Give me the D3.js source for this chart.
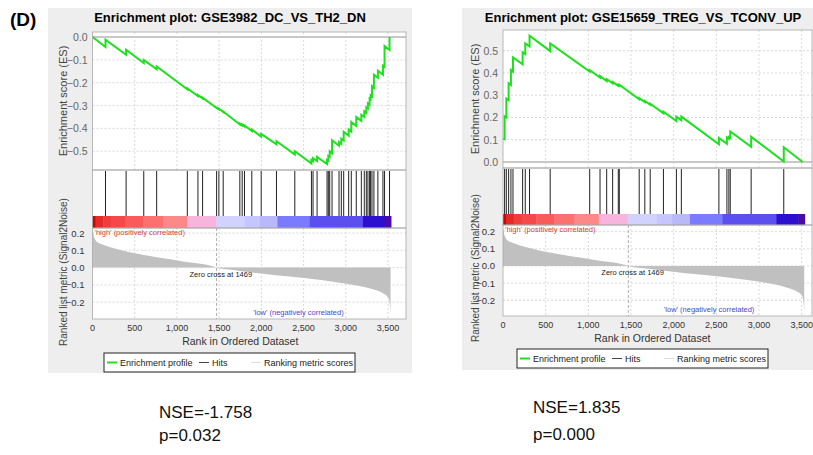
<!DOCTYPE html>
<html>
<head>
<meta charset="utf-8">
<script src="https://cdn.jsdelivr.net/npm/d3@7"></script>
<style>
  body { margin: 0; background: #fff; }
  svg text { font-family: "Liberation Sans", Arial, sans-serif; }
</style>
</head>
<body>
<svg id="chart" width="813" height="455"></svg>
<script>
// ranked list, shared by both plots
const rankTicks = [0, 500, 1000, 1500, 2000, 2500, 3000, 3500];
const metricTicks = [0.2, 0.1, 0.0, -0.1, -0.2];
const metricCurve = [
  [0, 0.228], [12, 0.189], [24, 0.170], [51, 0.150], [110, 0.135], [209, 0.118],
  [366, 0.098], [563, 0.077], [760, 0.060], [957, 0.045], [1154, 0.029], [1351, 0.016],
  [1469, 0.0], [1745, -0.019], [2139, -0.042], [2533, -0.061], [2927, -0.087],
  [3164, -0.106], [3321, -0.125], [3440, -0.148], [3499, -0.171], [3518, -0.196],
  [3530, -0.265]
];
const zeroCross = 1469;
const colorBarBreaks = [0, 35, 126, 217, 390, 600, 836, 1123, 1466, 1801, 1982, 2191, 2573, 3203, 3460, 3535];
const colorBarColors = ['#d40000', '#e52a2a', '#f03c3c', '#f54848', '#fa5a5a', '#fc7070', '#fd8888',
  '#f7b5de', '#d2d2ff', '#c6c6ff', '#b8b8fa', '#7b7bff', '#5c4ff0', '#2d0fd0', '#4a0aa8'];
const legendLabels = ['Enrichment profile', 'Hits', 'Ranking metric scores'];

// left plot
const leftTitle = 'Enrichment plot: GSE3982_DC_VS_TH2_DN';
const leftEsTicks = [0.0, -0.1, -0.2, -0.3, -0.4, -0.5];
const leftHits = [154, 398, 607, 760, 1123, 1249, 1304, 1470, 1497, 1548, 1745, 1773, 1800, 1887,
  1998, 2179, 2396, 2593, 2612, 2660, 2778, 2793, 2809, 2837, 2920, 2947, 2975, 3034, 3065, 3124,
  3184, 3219, 3243, 3262, 3282, 3294, 3310, 3333, 3380, 3440, 3459, 3518];
const leftEs = [
  [0, 0], [154, -0.044], [154, -0.012], [398, -0.078], [398, -0.056], [607, -0.114], [607, -0.100],
  [760, -0.141], [760, -0.129], [1123, -0.229], [1123, -0.225], [1249, -0.258], [1249, -0.254],
  [1304, -0.269], [1304, -0.266], [1470, -0.311], [1470, -0.309], [1497, -0.316], [1497, -0.314],
  [1548, -0.328], [1548, -0.326], [1745, -0.383], [1745, -0.379], [1773, -0.387], [1773, -0.383],
  [1800, -0.391], [1800, -0.387], [1887, -0.411], [1887, -0.405], [1998, -0.436], [1998, -0.424],
  [2179, -0.470], [2179, -0.456], [2396, -0.514], [2396, -0.500], [2593, -0.554], [2593, -0.538],
  [2612, -0.543], [2612, -0.530], [2660, -0.543], [2660, -0.525], [2778, -0.556], [2778, -0.538],
  [2793, -0.542], [2793, -0.520], [2809, -0.524], [2809, -0.500], [2837, -0.508], [2837, -0.452],
  [2920, -0.476], [2920, -0.460], [2947, -0.468], [2947, -0.445], [2975, -0.453], [2975, -0.415],
  [3034, -0.432], [3034, -0.405], [3065, -0.414], [3065, -0.372], [3124, -0.389], [3124, -0.350],
  [3184, -0.367], [3184, -0.340], [3219, -0.350], [3219, -0.325], [3243, -0.332], [3243, -0.308],
  [3262, -0.313], [3262, -0.290], [3282, -0.296], [3282, -0.270], [3294, -0.273], [3294, -0.255],
  [3310, -0.260], [3310, -0.215], [3333, -0.222], [3333, -0.165], [3380, -0.178], [3380, -0.148],
  [3440, -0.165], [3440, -0.125], [3459, -0.130], [3459, -0.040], [3518, -0.057], [3518, 0.0]
];
const leftStats = ['NSE=-1.758', 'p=0.032'];

// right plot
const rightTitle = 'Enrichment plot: GSE15659_TREG_VS_TCONV_UP';
const rightEsTicks = [0.5, 0.4, 0.3, 0.2, 0.1, 0.0];
const rightHits = [19, 39, 66, 93, 117, 230, 261, 311, 553, 1016, 1137, 1215, 1285, 1351, 1363,
  1596, 1662, 1725, 1880, 2032, 2090, 2530, 2624, 2647, 2663, 2908, 3290];
const rightEs = [
  [0, 0.105], [19, 0.102], [19, 0.205], [39, 0.200], [39, 0.285], [66, 0.278], [66, 0.354],
  [93, 0.346], [93, 0.413], [117, 0.406], [117, 0.470], [230, 0.439], [230, 0.493], [261, 0.485],
  [261, 0.533], [311, 0.520], [311, 0.567], [553, 0.498], [553, 0.533], [1016, 0.406], [1016, 0.412],
  [1137, 0.379], [1137, 0.386], [1215, 0.364], [1215, 0.372], [1285, 0.353], [1285, 0.360],
  [1351, 0.342], [1351, 0.346], [1363, 0.343], [1363, 0.347], [1596, 0.282], [1596, 0.287],
  [1662, 0.269], [1662, 0.274], [1725, 0.257], [1725, 0.262], [1880, 0.219], [1880, 0.226],
  [2032, 0.184], [2032, 0.203], [2090, 0.187], [2090, 0.204], [2530, 0.080], [2530, 0.108],
  [2624, 0.082], [2624, 0.110], [2647, 0.104], [2647, 0.112], [2663, 0.108], [2663, 0.137],
  [2908, 0.068], [2908, 0.113], [3290, 0.002], [3290, 0.066], [3511, 0.0]
];
const rightStats = ['NSE=1.835', 'p=0.000'];

const svg = d3.select('#chart');

svg.append('text')
  .attr('x', 10).attr('y', 26)
  .style('font-size', '19px').style('font-weight', 'bold')
  .text('(D)');

function drawPanel(p) {
  const g = svg.append('g');

  // gray panel background
  g.append('rect')
    .attr('x', p.bg[0]).attr('y', p.bg[1])
    .attr('width', p.bg[2]).attr('height', p.bg[3])
    .attr('fill', '#eeeeee');

  g.append('text')
    .attr('x', p.titleX).attr('y', 22)
    .style('text-anchor', 'middle')
    .style('font-size', '13px').style('font-weight', 'bold')
    .text(p.title);

  const x = d3.scaleLinear().domain([0, p.rankMax]).range([p.left, p.right]);
  const yEs = d3.scaleLinear().domain(p.esDomain).range([p.esBottom, p.esTop]);
  const yMetric = d3.scaleLinear().domain(p.metricDomain).range([p.metricBottom, p.colorBottom]);

  // white plot areas
  g.append('rect').attr('x', p.left).attr('y', p.esTop)
    .attr('width', p.right - p.left).attr('height', p.metricBottom - p.esTop)
    .attr('fill', '#fff');

  // grid lines
  const grid = g.append('g').attr('stroke', '#d9d9d9').attr('stroke-dasharray', '2,2');
  grid.selectAll('.vEs').data(rankTicks.slice(1)).enter().append('line')
    .attr('x1', d => x(d)).attr('x2', d => x(d))
    .attr('y1', p.esTop).attr('y2', p.esBottom);
  grid.selectAll('.hEs').data(p.esTicks).enter().append('line')
    .attr('x1', p.left).attr('x2', p.right)
    .attr('y1', d => yEs(d)).attr('y2', d => yEs(d));
  grid.selectAll('.vM').data(rankTicks.slice(1)).enter().append('line')
    .attr('x1', d => x(d)).attr('x2', d => x(d))
    .attr('y1', p.colorBottom).attr('y2', p.metricBottom);
  grid.selectAll('.hM').data(metricTicks).enter().append('line')
    .attr('x1', p.left).attr('x2', p.right)
    .attr('y1', d => yMetric(d)).attr('y2', d => yMetric(d));

  // ES zero line
  g.append('line')
    .attr('x1', p.left).attr('x2', p.right)
    .attr('y1', yEs(0)).attr('y2', yEs(0))
    .attr('stroke', '#c8c8c8').attr('stroke-width', 2);

  // ranked list metric
  g.append('path')
    .datum(metricCurve)
    .attr('fill', '#c0c0c0')
    .attr('d', d3.area().curve(d3.curveMonotoneX)
      .x(d => x(d[0])).y0(yMetric(0)).y1(d => yMetric(d[1])));

  g.append('line')
    .attr('x1', x(zeroCross)).attr('x2', x(zeroCross))
    .attr('y1', p.colorBottom).attr('y2', p.metricBottom)
    .attr('stroke', '#b0b0b0').attr('stroke-dasharray', '3,2');

  g.append('text')
    .attr('x', x(zeroCross) - 27).attr('y', yMetric(0) + 9)
    .style('font-size', '7.5px').style('fill', '#222')
    .text('Zero cross at ' + zeroCross);

  g.append('text')
    .attr('x', p.left + 2).attr('y', p.colorBottom + 7)
    .style('font-size', '7.5px').style('fill', '#d04040')
    .text("'high' (positively correlated)");

  g.append('text')
    .attr('x', x(p.lowEnd)).attr('y', p.metricBottom - 4)
    .style('text-anchor', 'end')
    .style('font-size', '7.5px').style('fill', '#4848c8')
    .text("'low' (negatively correlated)");

  // color bar
  g.selectAll('.cb').data(colorBarColors).enter().append('rect')
    .attr('x', (d, i) => x(colorBarBreaks[i]))
    .attr('width', (d, i) => x(colorBarBreaks[i + 1]) - x(colorBarBreaks[i]) + 0.5)
    .attr('y', p.hitsBottom).attr('height', p.colorBottom - p.hitsBottom)
    .attr('fill', d => d);

  // hits
  g.selectAll('.hit').data(p.hits).enter().append('line')
    .attr('x1', d => x(d)).attr('x2', d => x(d))
    .attr('y1', p.esBottom + 1).attr('y2', p.hitsBottom)
    .attr('stroke', '#222').attr('stroke-width', 1);

  // enrichment profile
  g.append('path')
    .datum(p.es)
    .attr('fill', 'none')
    .attr('stroke', '#1fe01f').attr('stroke-width', 2)
    .attr('d', d3.line().x(d => x(d[0])).y(d => yEs(d[1])));

  // borders
  [[p.esTop, p.esBottom], [p.esBottom, p.colorBottom], [p.colorBottom, p.metricBottom]].forEach(r => {
    g.append('rect').attr('x', p.left).attr('y', r[0])
      .attr('width', p.right - p.left).attr('height', r[1] - r[0])
      .attr('fill', 'none').attr('stroke', '#a8a8a8').attr('stroke-width', 0.8);
  });

  // axes labels
  g.selectAll('.esTick').data(p.esTicks).enter().append('text')
    .attr('x', p.left - 5).attr('y', d => yEs(d) + 4)
    .style('text-anchor', 'end').style('font-size', '10.5px').style('fill', '#666')
    .text(d => d3.format('.1f')(d));

  g.selectAll('.mTick').data(metricTicks).enter().append('text')
    .attr('x', p.left - 8).attr('y', d => yMetric(d) + 3.5)
    .style('text-anchor', 'end').style('font-size', '9.5px').style('fill', '#333')
    .text(d => d3.format('.1f')(d));

  g.selectAll('.xTick').data(rankTicks).enter().append('text')
    .attr('x', d => x(d)).attr('y', p.tickY)
    .style('text-anchor', 'middle').style('font-size', '9px').style('fill', '#333')
    .text(d => d3.format(',')(d));

  g.append('text')
    .attr('x', x(1750)).attr('y', p.tickY + 14)
    .style('text-anchor', 'middle').style('font-size', '10.5px').style('fill', '#333')
    .text('Rank in Ordered Dataset');

  g.append('text')
    .attr('transform', `translate(${p.yLabelX}, ${p.esLabelY}) rotate(-90)`)
    .style('text-anchor', 'middle').style('font-size', '11px').style('fill', '#444')
    .text('Enrichment score (ES)');

  g.append('text')
    .attr('transform', `translate(${p.yLabelX}, ${p.metricLabelY}) rotate(-90)`)
    .style('text-anchor', 'middle').style('font-size', '10px').style('fill', '#444')
    .text('Ranked list metric (Signal2Noise)');

  // legend
  const lg = g.append('g').attr('transform', `translate(${p.legend[0]}, ${p.legend[1]})`);
  lg.append('rect').attr('width', 251).attr('height', 19)
    .attr('fill', '#fff').attr('stroke', '#222');
  const items = [
    { color: '#1fe01f', x: 2, w: 2 },
    { color: '#444', x: 94, w: 1 },
    { color: '#ddd', x: 146, w: 1 }
  ];
  items.forEach((it, i) => {
    lg.append('line').attr('x1', it.x + 1).attr('x2', it.x + 11)
      .attr('y1', 9.5).attr('y2', 9.5)
      .attr('stroke', it.color).attr('stroke-width', it.w);
    lg.append('text').attr('x', it.x + 14).attr('y', 13)
      .style('font-size', '9px').style('fill', '#222')
      .text(legendLabels[i]);
  });

  // statistics under the plot
  g.selectAll('.stat').data(p.stats).enter().append('text')
    .attr('x', p.statX).attr('y', (d, i) => p.statY[i])
    .style('font-size', '17px').style('fill', '#111')
    .text(d => d);
}

drawPanel({
  title: leftTitle, titleX: 230, bg: [48, 8, 364, 365],
  left: 92.5, right: 406, rankMax: 3713,
  esTop: 32, esBottom: 170, esDomain: [-0.582, 0.022], esTicks: leftEsTicks,
  hitsBottom: 216, colorBottom: 228, metricBottom: 319, metricDomain: [-0.297, 0.229],
  lowEnd: 2975, tickY: 331, yLabelX: 67, esLabelY: 101, metricLabelY: 272,
  legend: [104, 353], hits: leftHits, es: leftEs,
  stats: leftStats, statX: 159, statY: [418, 441]
});

drawPanel({
  title: rightTitle, titleX: 643, bg: [462, 8, 360, 362],
  left: 503, right: 812, rankMax: 3621,
  esTop: 30, esBottom: 168, esDomain: [-0.027, 0.593], esTicks: rightEsTicks,
  hitsBottom: 214, colorBottom: 225, metricBottom: 316, metricDomain: [-0.292, 0.239],
  lowEnd: 2945, tickY: 328, yLabelX: 479, esLabelY: 99, metricLabelY: 268,
  legend: [517, 349], hits: rightHits, es: rightEs,
  stats: rightStats, statX: 533, statY: [413, 440]
});
</script>
</body>
</html>
